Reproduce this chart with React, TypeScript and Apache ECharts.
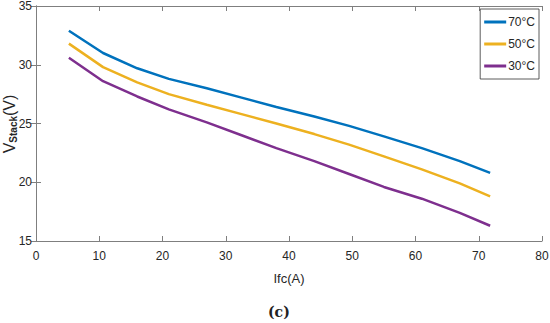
import React, { useEffect, useRef } from "react";
import * as echarts from "echarts";

const current = [5.2, 10.6, 16, 21, 27, 32.5, 38, 44, 49.5, 55, 61, 67, 71.8];
const v70 = [32.9, 31.0, 29.7, 28.8, 28.0, 27.2, 26.4, 25.6, 24.8, 23.9, 22.9, 21.8, 20.8];
const v50 = [31.8, 29.8, 28.5, 27.5, 26.6, 25.8, 25.0, 24.1, 23.2, 22.2, 21.1, 19.9, 18.8];
const v30 = [30.6, 28.6, 27.3, 26.2, 25.1, 24.0, 22.9, 21.8, 20.7, 19.6, 18.6, 17.4, 16.3];
const seriesNames = ["70°C", "50°C", "30°C"];
const colors = ["#0072BD", "#EDB120", "#7E2F8E"];

const FONT = "Liberation Sans, Arial, sans-serif";

export default function App() {
  const ref = useRef<HTMLDivElement>(null);
  useEffect(() => {
    if (!ref.current) return;
    const chart = echarts.init(ref.current, null, { renderer: "svg" });
    const values = [v70, v50, v30];
    const axisLine = { show: true, lineStyle: { color: "#7f7f7f", width: 1 } };
    const ticks = { show: true, inside: true, length: 5, lineStyle: { color: "#7f7f7f" } };
    chart.setOption({
      animation: false,
      backgroundColor: "#ffffff",
      grid: { left: 36, right: 8, top: 6, bottom: 82, containLabel: false, outerBoundsMode: "none" },
      legend: {
        orient: "vertical",
        right: 11,
        top: 9,
        data: seriesNames,
        icon: "rect",
        itemWidth: 22,
        itemHeight: 3,
        itemGap: 10,
        padding: [7, 4, 7, 4],
        borderColor: "#333",
        borderWidth: 0.8,
        backgroundColor: "#fff",
        textStyle: { fontFamily: FONT, fontSize: 12, color: "#262626", padding: [0, 0, 0, -3] },
      },
      xAxis: [
        {
          type: "value",
          min: 0,
          max: 80,
          interval: 10,
          axisLine,
          axisTick: ticks,
          splitLine: { show: false },
          axisLabel: { fontFamily: FONT, fontSize: 12, color: "#262626", margin: 9 },
          name: "Ifc(A)",
          nameLocation: "middle",
          nameGap: 31,
          nameTextStyle: { fontFamily: FONT, fontSize: 13, color: "#262626" },
        },
        {
          type: "value",
          position: "top",
          min: 0,
          max: 80,
          interval: 10,
          axisLine,
          axisTick: ticks,
          axisLabel: { show: false },
          splitLine: { show: false },
        },
      ],
      yAxis: [
        {
          type: "value",
          min: 15,
          max: 35,
          interval: 5,
          axisLine,
          axisTick: ticks,
          splitLine: { show: false },
          axisLabel: { fontFamily: FONT, fontSize: 12, color: "#262626", margin: 4 },
        },
        {
          type: "value",
          position: "right",
          min: 15,
          max: 35,
          interval: 5,
          axisLine,
          axisTick: ticks,
          axisLabel: { show: false },
          splitLine: { show: false },
        },
      ],
      series: seriesNames.map((name, i) => ({
        name,
        type: "line",
        data: current.map((x, j) => [x, values[i][j]]),
        showSymbol: false,
        symbol: "none",
        lineStyle: { color: colors[i], width: 2.5 },
        itemStyle: { color: colors[i] },
      })),
      graphic: [
        {
          type: "text",
          x: 9,
          y: 124,
          rotation: Math.PI / 2,
          style: {
            text: "{v|V}{s|Stack}{v|(V)}",
            align: "center",
            verticalAlign: "middle",
            rich: {
              v: { fontFamily: FONT, fontSize: 16, fill: "#262626", lineHeight: 18, verticalAlign: "middle" },
              s: { fontFamily: FONT, fontSize: 10, fontWeight: "bold", fill: "#262626", lineHeight: 14, verticalAlign: "bottom" },
            },
          },
        },
        {
          type: "text",
          left: 268,
          top: 305,
          style: {
            text: "(c)",
            font: "bold 14px 'DejaVu Serif', 'Liberation Serif', serif",
            fill: "#222",
          },
        },
      ],
    });
    return () => chart.dispose();
  }, []);
  return <div ref={ref} style={{ width: 550, height: 323, position: "absolute", left: 0, top: 0 }} />;
}
